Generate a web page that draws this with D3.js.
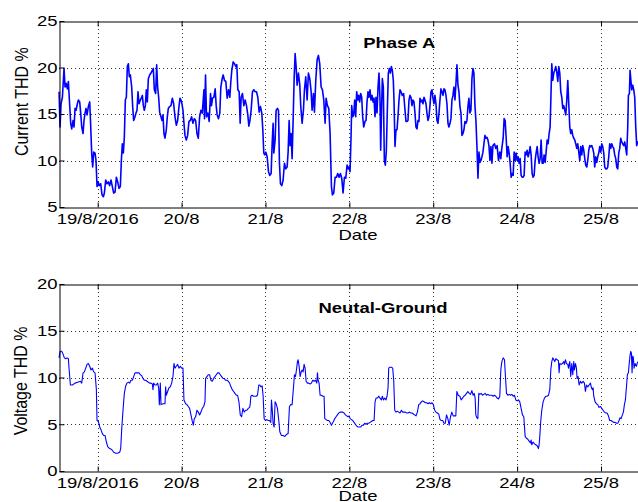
<!DOCTYPE html>
<html><head><meta charset="utf-8">
<script src="https://cdn.jsdelivr.net/npm/d3@7/dist/d3.min.js"></script>
<style>html,body{margin:0;padding:0;background:#fff;overflow:hidden}</style>
</head><body>
<svg id="c" width="638" height="502"></svg>
<script>
// ---- data (hours since 19/8/2016 00:00, THD %) ----
const phaseA = [[-11.05,17.4],[-10.77,13.6],[-10.48,16.1],[-10.10,16.8],[-9.63,19.9],[-9.34,17.9],[-9.05,18.3],[-8.67,17.7],[-8.39,18.5],[-8.10,16.5],[-7.72,14.0],[-7.43,13.4],[-7.05,14.3],[-6.77,13.6],[-6.48,15.6],[-6.19,15.4],[-5.81,16.1],[-5.53,16.5],[-5.15,16.3],[-4.86,15.1],[-4.57,13.6],[-4.19,12.9],[-3.91,14.3],[-3.62,15.1],[-3.34,15.6],[-3.05,14.9],[-2.67,15.8],[-2.29,16.3],[-2.10,14.7],[-1.72,10.8],[-1.43,9.3],[-1.14,10.9],[-0.76,10.8],[-0.48,10.0],[-0.19,7.2],[0.10,7.7],[0.48,7.3],[0.86,7.5],[1.24,6.3],[1.62,6.1],[1.91,6.5],[2.29,7.9],[2.67,7.5],[3.05,7.7],[3.43,7.3],[3.81,7.9],[4.19,7.2],[4.57,6.5],[4.96,6.6],[5.34,8.2],[5.72,7.7],[6.10,7.0],[6.48,7.2],[6.77,10.0],[7.05,11.8],[7.34,10.8],[7.62,12.5],[7.91,16.5],[8.20,16.8],[8.48,20.1],[8.77,20.4],[9.05,19.0],[9.34,19.2],[9.72,17.9],[10.01,15.8],[10.29,14.3],[10.67,14.7],[10.96,15.1],[11.25,15.4],[11.53,17.4],[11.82,16.1],[12.20,16.5],[12.48,16.7],[12.77,17.0],[13.06,15.9],[13.34,15.4],[13.63,15.9],[13.91,17.6],[14.20,16.3],[14.49,18.8],[14.87,19.2],[15.25,19.4],[15.63,19.7],[15.92,19.9],[16.20,17.6],[16.58,17.2],[16.87,20.3],[17.15,17.9],[17.44,16.8],[17.73,15.2],[18.11,14.7],[18.39,14.3],[18.68,14.9],[18.96,12.9],[19.25,12.4],[19.63,13.3],[19.92,14.7],[20.20,15.6],[20.58,15.8],[20.97,15.9],[21.35,16.7],[21.73,16.1],[22.11,14.7],[22.49,13.8],[22.87,14.3],[23.25,15.8],[23.54,16.7],[23.83,16.5],[24.11,16.1],[24.40,15.4],[24.68,14.0],[24.97,12.7],[25.35,12.2],[25.73,12.7],[26.11,14.2],[26.49,14.3],[26.87,14.7],[27.26,14.0],[27.64,14.5],[28.02,14.3],[28.40,12.9],[28.78,12.4],[29.16,14.7],[29.54,15.4],[29.92,15.1],[30.40,17.6],
[30.56,14.5],[30.85,19.2],[31.13,14.7],[31.51,15.1],[31.89,14.2],[32.28,17.2],[32.56,15.9],[32.85,16.7],[33.23,16.8],[33.61,17.7],[33.90,15.9],[34.18,14.9],[34.56,14.5],[34.94,15.1],[35.23,17.9],[35.61,18.8],[35.90,19.2],[36.28,18.6],[36.66,18.5],[37.04,16.7],[37.42,17.6],[37.80,16.8],[38.09,18.5],[38.37,19.7],[38.76,20.6],[39.14,20.4],[39.52,20.1],[39.80,20.3],[40.09,17.6],[40.47,17.4],[40.76,14.0],[41.04,16.8],[41.42,17.2],[41.81,15.9],[42.19,16.5],[42.57,15.9],[42.95,14.9],[43.24,13.7],[43.52,14.2],[43.90,15.4],[44.28,17.4],[44.66,17.6],[45.05,17.4],[45.43,17.4],[45.81,16.8],[46.19,15.2],[46.57,15.8],[46.95,15.1],[47.24,13.3],[47.52,10.8],[47.81,10.6],[48.10,10.9],[48.48,10.4],[48.86,8.8],[49.24,8.4],[49.62,8.6],[49.91,11.8],[50.19,14.0],[50.38,10.8],[50.76,12.2],[51.05,15.4],[51.43,15.6],[51.72,15.4],[52.00,9.7],[52.29,7.5],[52.67,7.3],[53.05,7.9],[53.43,9.7],[53.81,9.1],[54.19,9.3],[54.48,10.9],[54.77,14.3],[55.05,11.6],[55.34,12.9],[55.62,10.2],[55.91,14.3],[56.20,18.8],[56.48,21.5],[56.77,20.1],[57.05,18.1],[57.43,19.4],[57.82,18.1],[58.10,15.8],[58.48,14.0],[58.86,15.4],[59.15,17.6],[59.53,19.0],[59.91,16.5],[60.29,19.4],[60.67,18.8],[61.06,17.4],[61.34,15.4],[61.72,17.2],[62.01,15.2],[62.39,18.6],[62.77,20.8],[63.15,21.3],[63.53,20.4],[63.92,17.9],[64.30,17.6],[64.68,16.5],[65.06,14.0],[65.34,16.7],[65.73,15.9],[66.11,15.6],[66.49,12.9],[66.87,7.2],[67.16,6.3],[67.54,6.5],[67.92,8.2],[68.30,8.2],[68.68,8.6],[69.06,8.2],[69.44,8.6],[69.82,8.1],[70.20,6.5],[70.59,8.2],[70.97,8.1],[71.35,9.5],[71.73,9.1],
[71.90,9.3],[72.19,8.8],[72.48,12.5],[72.67,15.9],[72.95,14.7],[73.24,14.9],[73.52,16.5],[73.81,14.7],[74.10,17.4],[74.38,16.5],[74.67,17.0],[74.95,16.3],[75.24,17.2],[75.53,16.8],[75.81,14.7],[76.10,13.6],[76.48,14.2],[76.77,14.3],[77.05,16.3],[77.34,17.4],[77.62,16.8],[77.91,17.6],[78.19,16.5],[78.48,17.0],[78.77,16.3],[79.05,16.7],[79.34,14.7],[79.62,16.8],[79.91,15.1],[80.20,17.9],[80.48,19.4],[80.77,16.5],[80.96,11.1],[81.24,15.8],[81.43,18.8],[81.72,17.9],[82.01,10.0],[82.29,9.5],[82.58,11.1],[82.86,15.4],[83.15,19.4],[83.44,19.9],[83.72,19.4],[84.01,20.1],[84.29,19.7],[84.58,18.6],[84.77,16.5],[85.06,11.5],[85.34,13.3],[85.63,13.3],[85.91,14.7],[86.20,16.5],[86.49,17.6],[86.77,17.4],[87.15,17.0],[87.53,17.2],[87.92,15.4],[88.20,14.2],[88.49,14.2],[88.77,14.3],[89.06,16.5],[89.34,17.0],[89.63,16.8],[89.92,15.9],[90.20,16.5],[90.49,16.3],[90.77,15.1],[91.06,13.6],[91.35,13.4],[91.63,14.3],[91.92,14.2],[92.20,16.7],[92.49,16.3],[92.78,16.5],[93.06,16.1],[93.35,16.8],[93.63,16.5],[93.92,16.1],[94.20,15.1],[94.49,14.3],[94.78,14.7],[95.06,15.9],[95.35,17.4],[95.63,17.6],[95.92,16.7],[96.21,16.1],[96.49,17.0],[96.78,16.1],[97.06,14.3],[97.35,14.0],[97.64,15.1],[97.92,16.5],[98.21,17.7],[98.49,17.4],[98.78,17.0],[99.07,17.7],[99.35,17.6],[99.64,17.0],[99.92,16.1],[100.21,14.0],[100.49,13.6],[100.78,14.0],[101.07,14.5],[101.35,16.5],[101.64,17.0],[101.92,17.9],[102.21,16.5],[102.50,18.3],[102.78,20.3],[103.07,18.1],[103.35,17.4],[103.64,15.8],[103.93,15.1],[104.21,12.7],[104.50,12.9],[104.78,13.3],[105.07,14.2],[105.36,14.0],[105.64,14.3],[105.93,15.8],[106.21,16.7],[106.50,15.1],[106.78,15.4],[107.07,18.8],[107.36,19.9],[107.64,19.4],[107.93,15.9],[108.21,14.3],[108.50,11.5],[108.79,8.1],[109.07,10.9],[109.36,9.8],[109.64,10.0],[109.93,10.4],[110.22,10.9],[110.50,11.8],[110.79,12.7],[111.07,12.4],[111.36,12.5],[111.65,12.2],[111.93,11.6],[112.22,10.0],[112.50,11.5],[112.79,9.7],[113.07,11.6],
[113.52,11.8],[113.90,11.3],[114.28,11.6],[114.66,10.0],[115.04,10.9],[115.33,10.2],[115.62,11.3],[116.00,12.4],[116.28,14.5],[116.57,14.3],[116.85,12.5],[117.14,10.4],[117.43,11.5],[117.71,10.8],[118.00,9.7],[118.28,8.2],[118.57,8.6],[118.86,8.4],[119.14,10.9],[119.43,10.0],[119.71,10.8],[120.00,10.0],[120.29,10.4],[120.57,9.7],[120.86,10.2],[121.14,8.4],[121.43,8.2],[121.72,8.2],[122.00,8.4],[122.29,10.9],[122.57,10.6],[122.86,11.1],[123.14,10.4],[123.43,10.8],[123.72,11.5],[124.00,10.6],[124.29,8.6],[124.57,8.2],[124.86,8.4],[125.15,10.0],[125.43,10.8],[125.72,11.5],[126.00,10.4],[126.29,9.7],[126.58,10.2],[126.86,12.2],[127.15,9.7],[127.43,9.7],[127.72,10.6],[128.01,9.8],[128.29,10.9],[128.58,12.2],[128.86,11.8],[129.15,12.9],[129.43,13.6],[129.72,17.6],[129.91,20.4],[130.20,18.6],[130.48,19.4],[130.77,19.7],[131.05,20.1],[131.34,19.5],[131.63,18.5],[131.91,20.1],[132.20,19.4],[132.48,17.4],[132.77,16.8],[133.06,15.6],[133.34,15.9],[133.63,15.4],[133.91,14.9],[134.20,16.5],[134.49,18.6],[134.77,16.1],[135.06,13.6],[135.34,12.9],[135.63,13.3],[135.92,12.7],[136.20,12.4],[136.49,12.2],[136.77,11.8],[137.06,11.3],[137.34,11.8],[137.63,10.9],[137.92,10.0],[138.20,11.5],[138.49,10.6],[138.77,11.6],[139.06,11.1],[139.35,10.2],[139.63,9.5],[139.92,9.3],[140.20,10.0],[140.49,11.1],[140.78,11.6],[141.06,11.5],[141.35,11.6],[141.63,11.3],[141.92,10.8],[142.20,9.3],[142.49,10.4],[142.78,9.8],[143.06,10.4],[143.35,10.8],[143.63,11.5],[143.92,10.9],[144.21,11.8],[144.49,11.5],[144.78,10.8],[145.06,9.3],[145.35,9.1],[145.64,9.1],[145.92,9.3],[146.21,10.4],[146.49,11.8],[146.78,11.3],[147.07,11.8],[147.35,11.5],[147.64,11.3],[147.92,10.6],[148.21,10.2],[148.50,9.3],[148.78,9.1],[149.07,10.8],[149.35,11.3],[149.64,12.4],[149.92,12.0],[150.21,11.8],[150.50,11.6],[150.78,12.0],[151.07,11.3],[151.35,10.6],[151.64,13.6],[151.83,17.0],[152.12,17.2],[152.31,19.7],[152.50,18.8],[152.78,17.6],[153.07,18.1],[153.36,17.6],[153.64,16.8],[153.93,13.6],[154.21,11.6],[154.50,12.0],[154.69,11.8]];

const neutralGround = [[-11.05,12.1],[-10.77,12.8],[-10.29,12.8],[-9.91,12.5],[-9.53,12.1],[-9.15,12.0],[-8.77,12.1],[-8.39,12.0],[-8.10,10.5],[-7.81,9.2],[-7.24,9.2],[-6.48,9.4],[-5.72,9.5],[-4.96,9.6],[-4.57,9.4],[-4.19,10.5],[-3.81,10.6],[-3.43,11.0],[-3.05,11.4],[-2.67,11.5],[-2.29,11.2],[-1.91,10.8],[-1.52,11.0],[-1.14,10.6],[-0.76,10.5],[-0.38,8.7],[-0.19,5.4],[0.19,5.3],[0.57,4.7],[0.95,4.4],[1.33,4.0],[1.72,3.8],[2.10,3.8],[2.48,3.1],[2.86,2.6],[3.43,2.4],[4.00,2.3],[4.57,2.0],[5.15,1.9],[5.72,1.9],[6.29,2.0],[6.58,2.4],[6.86,4.4],[7.24,6.5],[7.62,8.3],[8.01,9.1],[8.39,9.4],[8.77,9.5],[9.15,9.4],[9.53,9.7],[9.91,9.7],[10.29,10.1],[10.67,10.5],[11.05,10.5],[11.44,10.5],[11.82,10.5],[12.20,10.3],[12.58,10.2],[12.96,9.9],[13.34,9.7],[13.72,9.7],[14.10,9.6],[14.49,9.5],[14.87,9.4],[15.25,9.4],[15.63,9.3],[15.82,8.7],[16.01,9.4],[16.39,9.2],[16.77,9.2],[17.15,9.4],[17.44,8.9],[17.63,7.1],[17.92,9.4],[18.11,7.1],[18.68,7.2],[19.25,7.2],[19.44,9.0],[19.63,8.1],[20.01,8.5],[20.39,8.9],[20.78,9.0],[21.16,9.4],[21.54,10.1],[21.82,11.5],[22.11,11.0],[22.49,11.2],[22.87,11.4],[23.25,11.0],[23.63,11.2],[24.02,11.0],[24.40,11.0],[24.68,7.6],[25.16,7.2],[25.54,7.1],[25.92,6.9],[26.30,6.7],[26.68,6.0],[27.07,5.3],[27.35,4.9],[27.64,5.6],[28.02,5.8],[28.40,6.5],[28.78,6.3],[29.16,6.0],[29.54,6.3],[29.92,6.7],[30.31,6.9],[30.69,7.4],[30.88,9.9],[31.26,10.1],[31.64,10.3],[32.02,10.3],[32.40,9.7],[32.78,9.6],[33.16,9.9],[33.55,10.1],[33.93,10.3],[34.31,10.5],[34.69,10.5],[35.07,10.3],[35.45,10.1],[35.83,9.9],[36.21,9.9],[36.60,9.7],[36.98,9.7],[37.36,9.6],[37.74,9.4],[38.12,9.0],[38.50,8.7],[38.88,8.5],[39.26,8.3],[39.65,8.1],[40.03,8.1],[40.41,7.4],[40.79,6.0],[41.17,5.8],[41.55,6.7],[41.93,6.3],[42.31,6.5],[42.69,6.5],[43.08,6.7],[43.46,6.8],
[43.62,7.1],[43.81,8.0],[44.19,8.1],[44.57,8.0],[44.95,8.0],[45.33,8.0],[45.71,8.1],[46.09,9.2],[46.38,9.2],[46.67,9.0],[47.05,9.1],[47.33,8.0],[47.62,5.6],[48.00,5.4],[48.38,5.5],[48.76,5.4],[49.14,5.4],[49.52,5.2],[49.72,7.6],[49.91,6.7],[50.19,5.1],[50.48,4.7],[50.76,7.4],[51.05,7.2],[51.43,6.7],[51.81,5.4],[52.10,4.2],[52.57,3.8],[53.05,3.8],[53.53,3.7],[54.00,3.9],[54.48,4.0],[54.86,6.9],[55.24,7.1],[55.62,7.1],[56.01,8.9],[56.29,10.3],[56.58,10.1],[56.86,10.8],[57.15,11.7],[57.34,11.9],[57.63,11.2],[57.91,10.1],[58.20,10.6],[58.48,10.8],[58.77,10.6],[59.05,11.4],[59.34,11.0],[59.63,9.6],[60.01,9.4],[60.39,9.4],[60.77,9.3],[61.15,9.4],[61.53,9.7],[61.91,9.6],[62.30,9.7],[62.68,9.4],[62.87,10.5],[63.06,9.7],[63.34,9.4],[63.63,8.1],[64.01,8.1],[64.39,8.0],[64.77,8.0],[64.96,5.6],[65.34,5.5],[65.73,5.4],[66.11,5.4],[66.49,5.2],[66.87,4.9],[67.16,5.1],[67.44,5.3],[67.82,5.6],[68.20,5.8],[68.58,6.0],[68.97,6.2],[69.35,6.3],[69.73,6.3],[70.11,6.3],[70.49,6.2],[70.87,6.0],[71.25,5.9],[71.63,5.8],[71.92,5.9],[72.21,5.6],[72.59,5.5],[72.97,5.4],[73.35,5.2],[73.73,5.0],[74.11,4.8],[74.49,4.7],[74.87,4.7],[75.26,4.7],[75.64,4.9],[76.02,4.9],[76.40,5.1],[76.78,5.0],[77.16,5.1],[77.54,5.1],[77.92,5.2],[78.31,5.3],[78.69,5.4],[79.07,5.4],[79.35,7.4],[79.64,7.8],[80.02,7.8],[80.40,8.0],[80.78,7.8],[81.16,7.6],[81.45,8.0],[81.74,7.6],[82.12,7.8],[82.50,7.6],[82.78,8.0],[83.07,8.9],[83.26,11.0],[83.55,11.1],[84.02,11.1],[84.40,11.0],[84.69,9.7],[84.98,6.5],[85.36,6.3],[85.74,6.4],[86.12,6.3],[86.50,6.2],[86.88,6.5],[87.26,6.3],[87.64,6.3],[88.03,6.3],[88.41,6.2],[88.79,6.2],[89.17,6.3],[89.55,6.2],[89.93,6.2],[90.31,6.1],[90.69,6.0],[91.08,5.9],[91.46,6.3],[91.84,7.1],[92.22,7.2],[92.60,7.4],[92.98,7.5],[93.36,7.4],[93.74,7.3],[94.13,7.3],[94.51,7.2],[94.89,7.3],[95.27,7.2],[95.65,7.3],[96.03,7.1],[96.41,6.5],[96.79,6.3],[97.17,6.2],[97.56,6.1],[97.94,5.5],[98.32,5.4],[98.70,5.4],[99.08,5.1],
[99.42,5.1],[99.80,6.0],[100.18,5.6],[100.56,4.9],[100.94,5.8],[101.32,6.3],[101.70,5.9],[102.08,5.9],[102.46,5.9],[102.75,8.5],[103.13,8.1],[103.61,8.0],[103.99,7.6],[104.37,7.8],[104.75,8.0],[105.13,8.1],[105.51,8.3],[105.90,8.5],[106.28,8.3],[106.66,8.2],[107.04,8.6],[107.42,8.1],[107.71,8.3],[107.99,7.8],[108.18,6.0],[108.47,5.7],[108.75,5.6],[109.04,8.3],[109.33,8.2],[109.71,8.3],[110.09,8.1],[110.47,8.2],[110.85,8.3],[111.23,8.1],[111.61,8.2],[112.00,8.1],[112.38,8.1],[112.76,8.1],[113.14,8.0],[113.52,8.1],[113.90,8.0],[114.28,7.8],[114.66,7.7],[115.04,8.0],[115.33,10.8],[115.62,11.7],[116.00,12.1],[116.38,11.9],[116.66,10.1],[116.95,8.3],[117.33,8.1],[117.71,8.2],[118.09,8.1],[118.48,8.2],[118.86,8.0],[119.24,8.1],[119.62,7.6],[120.00,7.5],[120.38,7.6],[120.76,7.4],[121.14,6.7],[121.52,6.0],[121.91,5.8],[122.29,3.7],[122.67,3.5],[123.05,3.4],[123.43,3.2],[123.81,3.0],[124.00,3.3],[124.19,2.8],[124.57,3.1],[124.96,2.9],[125.34,2.8],[125.72,2.7],[126.10,2.4],[126.29,2.8],[126.48,3.7],[126.77,5.4],[127.05,6.5],[127.43,7.4],[127.81,7.8],[128.20,8.0],[128.58,8.0],[128.96,8.1],[129.34,8.7],[129.63,10.8],[129.91,11.7],[130.20,12.1],[130.48,11.9],[130.77,11.7],[131.05,12.0],[131.44,11.9],[131.82,11.8],[132.01,10.5],[132.20,11.5],[132.58,11.4],[132.96,11.5],[133.34,11.7],[133.53,11.4],[133.82,11.9],[134.10,11.5],[134.49,11.4],[134.68,11.0],[134.87,11.4],[135.06,11.7],[135.34,10.1],[135.63,11.5],[135.92,10.3],[136.20,11.7],[136.39,10.8],[136.68,11.5],[136.96,11.0],[137.15,9.9],[137.44,10.1],[137.73,9.2],[138.11,9.6],[138.49,9.4],[138.87,9.6],[139.25,9.4],[139.54,8.5],[139.83,9.2],[140.21,9.0],[140.59,9.2],[140.97,9.4],[141.26,8.9],[141.54,8.7],[141.73,8.9],[141.92,8.0],[142.30,7.4],[142.68,7.2],[143.06,7.1],[143.44,6.8],[143.83,6.9],[144.21,6.7],[144.59,6.5],[144.97,6.3],[145.35,6.2],[145.73,6.2],[146.11,5.9],[146.49,5.4],[146.87,5.4],[147.26,5.3],[147.64,5.2],[148.02,5.2],[148.40,5.1],[148.78,5.1],[149.16,5.4],[149.45,5.7],[149.74,5.6],[150.12,6.0],[150.40,6.3],[150.69,7.1],[150.97,7.6],[151.26,8.9],[151.54,10.3],[151.83,10.5],[152.12,11.7],[152.31,12.4],[152.50,12.8],[152.69,12.6],[152.88,10.5],[153.07,12.3],[153.26,12.1],[153.45,11.0],[153.73,11.5],[154.11,11.2],[154.49,11.7]];

const dayTickLabels = ["19/8/2016","20/8","21/8","22/8","23/8","24/8","25/8"];
const currentTicks = [5,10,15,20,25];
const voltageTicks = [0,5,10,15,20];
const titles = ["Phase A","Neutal-Ground"];
const yLabels = ["Current THD %","Voltage THD %"];
const xLabel = "Date";

// ---- drawing ----
const FONT = "'Liberation Sans', Arial, Helvetica, sans-serif";
const SX = 1.32;
const svg = d3.select("#c");
const t0 = new Date(2016, 7, 19, 0, 0, 0);
const toDate = h => new Date(t0.getTime() + h * 3600e3);
const dayTicks = dayTickLabels.map((_, i) => d3.timeDay.offset(t0, i));

const L = 59, R = 658;
const x = d3.scaleTime().domain([toDate(-11.07), toDate(160.3)]).range([L, R]);

function label(g, px, py, s, o = {}) {
  const sx = o.sx ?? SX, sy = o.sy ?? 1;
  const tr = `translate(${px},${py})` + (o.rotate ? ` rotate(${o.rotate})` : "") + ` scale(${sx},${sy})`;
  g.append("text").attr("transform", tr)
    .attr("text-anchor", o.anchor || "middle")
    .attr("font-family", FONT)
    .attr("font-size", o.size || 14)
    .attr("font-weight", o.weight || "normal")
    .attr("fill", "#000")
    .text(s);
}

function panel(cfg) {
  const g = svg.append("g");
  const y = d3.scaleLinear().domain(cfg.yDomain).range([cfg.bottom, cfg.top]);
  // grid
  const grid = g.append("g").attr("stroke", "#333").attr("stroke-width", 1)
    .attr("stroke-dasharray", "1,3").attr("fill", "none");
  dayTicks.forEach(d => {
    const px = Math.round(x(d)) + 0.5;
    grid.append("line").attr("x1", px).attr("x2", px).attr("y1", cfg.top).attr("y2", cfg.bottom);
  });
  cfg.yTicks.slice(1, -1).forEach(v => {
    const py = Math.round(y(v)) + 0.5;
    grid.append("line").attr("x1", L).attr("x2", R).attr("y1", py).attr("y2", py);
  });
  // data line
  const line = d3.line().x(d => x(toDate(d[0]))).y(d => y(d[1]));
  g.append("path").datum(cfg.data).attr("d", line)
    .attr("fill", "none").attr("stroke", "#0000ff")
    .attr("stroke-width", cfg.lw).attr("stroke-linejoin", "round");
  // axes (inward ticks)
  const bottomAxis = d3.axisBottom(x).tickValues(dayTicks).tickSizeInner(-5).tickSizeOuter(0).tickFormat("");
  const topAxis = d3.axisTop(x).tickValues(dayTicks).tickSizeInner(-5).tickSizeOuter(0).tickFormat("");
  const leftAxis = d3.axisLeft(y).tickValues(cfg.yTicks).tickSizeInner(-5).tickSizeOuter(0).tickFormat("");
  const ax = [
    g.append("g").attr("transform", `translate(0,${Math.round(cfg.bottom) + 0.5})`).call(bottomAxis),
    g.append("g").attr("transform", `translate(0,${Math.round(cfg.top) + 0.5})`).call(topAxis),
    g.append("g").attr("transform", `translate(${L + 0.5},0)`).call(leftAxis)
  ];
  ax.forEach(a => { a.selectAll("path,line").attr("stroke", "#000").attr("stroke-width", 1); });
  // tick labels
  dayTicks.forEach((d, i) => label(g, x(d), cfg.bottom + 17, dayTickLabels[i]));
  cfg.yTicks.forEach(v => label(g, 57.5, y(v) + 5.3, String(v), { anchor: "end" }));
  // axis labels + title
  label(g, 358, Math.min(cfg.bottom + 32.5, 501), xLabel);
  label(g, cfg.ylx, cfg.yly, cfg.ylabel, { rotate: -90, sx: 1.14, sy: SX });
  label(g, cfg.tx, cfg.ty, cfg.title, { weight: "bold" });
}

panel({ top: 21, bottom: 207, yDomain: [5, 25], yTicks: currentTicks, data: phaseA, lw: 1.6,
        ylabel: yLabels[0], ylx: 27.5, yly: 101.7, title: titles[0], tx: 399.3, ty: 47.7 });
panel({ top: 284, bottom: 471, yDomain: [0, 20], yTicks: voltageTicks, data: neutralGround, lw: 1.1,
        ylabel: yLabels[1], ylx: 27, yly: 381, title: titles[1], tx: 383, ty: 312.7 });
</script>
</body></html>
